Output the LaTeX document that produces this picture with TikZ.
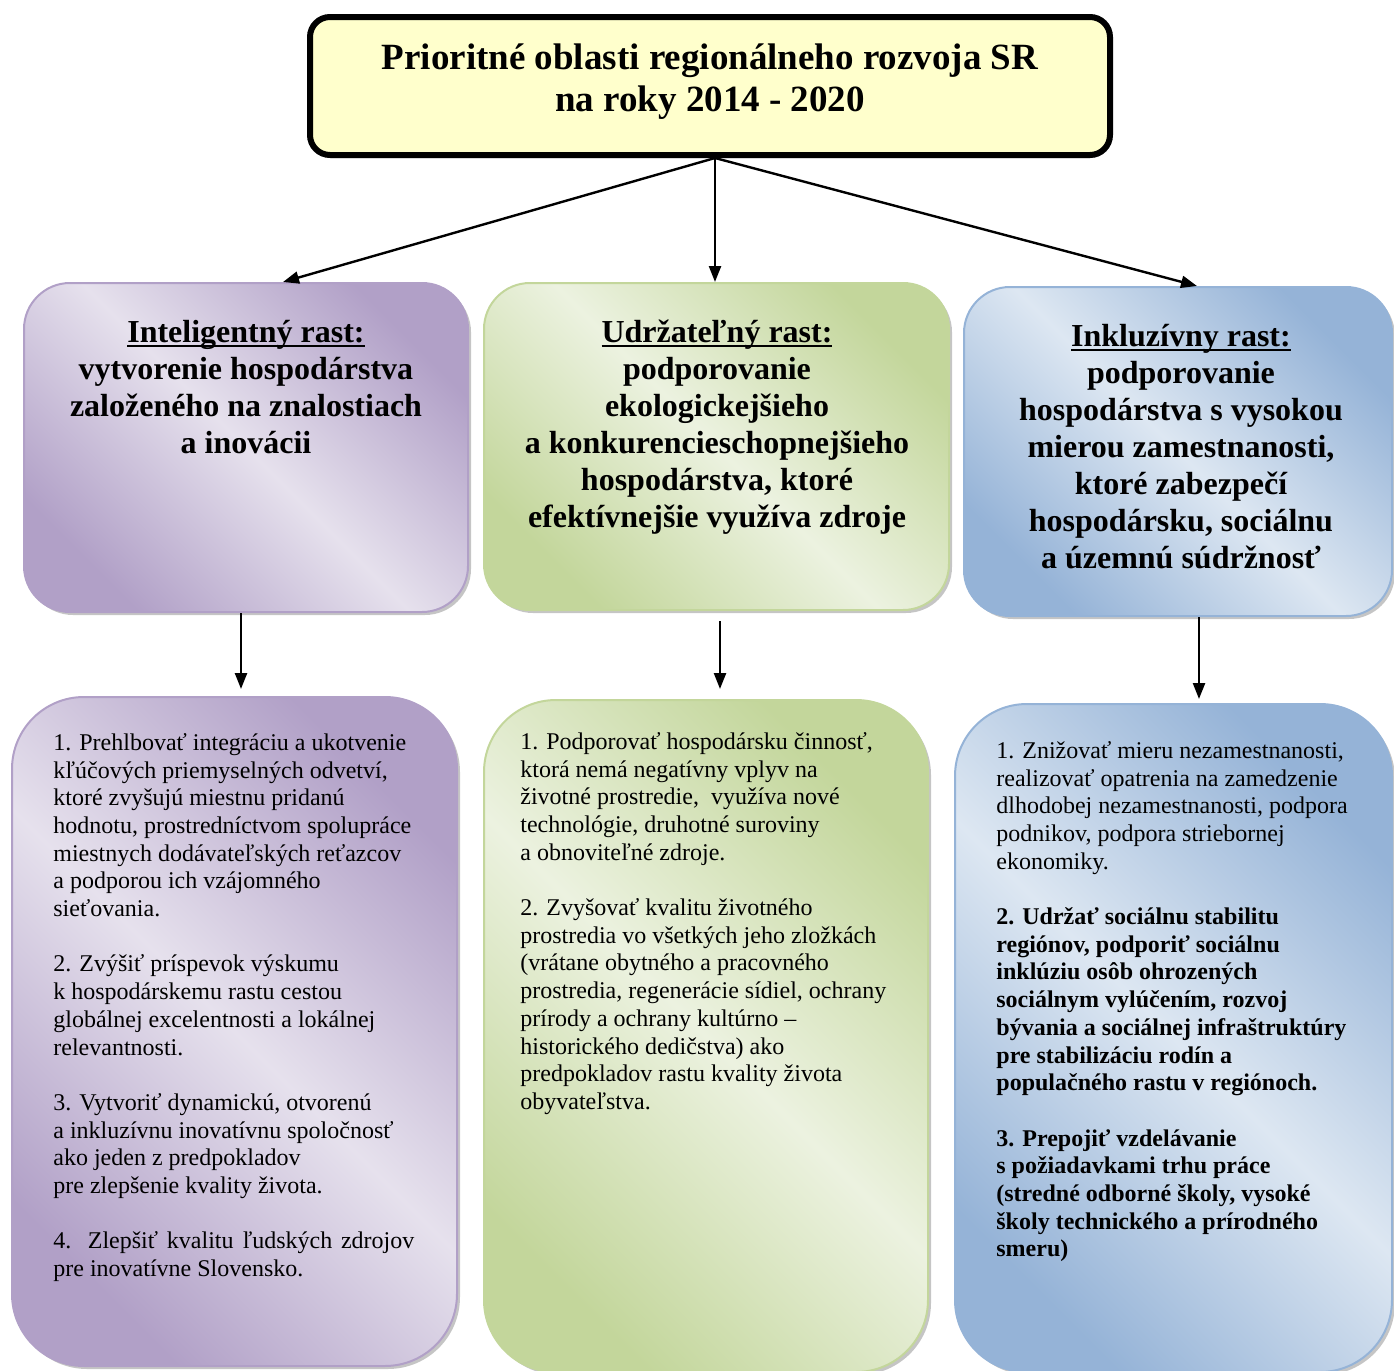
\documentclass[tikz,border=0pt]{standalone}
\usepackage{fontspec}
\setmainfont{Liberation Serif}
\usetikzlibrary{arrows.meta,shadows}

\newcommand{\undl}[1]{\setbox0=\hbox{#1}\rlap{\rule[-2pt]{\wd0}{1pt}}\box0}

\definecolor{titleyellow}{HTML}{FFFFCC}
\definecolor{purpdark}{HTML}{B1A0C7}
\definecolor{purplight}{HTML}{E6E1ED}
\definecolor{greendark}{HTML}{C3D69B}
\definecolor{greenlight}{HTML}{ECF2E0}
\definecolor{bluedark}{HTML}{95B3D7}
\definecolor{bluelight}{HTML}{DDE7F2}

\tikzset{
  shadowed/.style={drop shadow={shadow xshift=1.5pt, shadow yshift=-1.5pt, fill=black!45, opacity=0.5}},
  aimbox/.style={shadowed, rounded corners=23pt, line width=1pt, inner sep=0pt},
  goalbox/.style={shadowed, rounded corners=36pt, line width=1pt, inner sep=0pt},
  purplefill/.style={draw=purpdark, top color=purpdark, bottom color=purpdark, middle color=purplight, shading angle=-45},
  greenfill/.style={draw=greendark, top color=greendark, bottom color=greendark, middle color=greenlight, shading angle=-45},
  bluefill/.style={draw=bluedark, top color=bluedark, bottom color=bluedark, middle color=bluelight, shading angle=-45},
  aimtxt/.style={anchor=north, align=center, inner sep=0pt, font=\fontsize{16}{18.5}\selectfont\bfseries},
  goaltxt/.style={anchor=north west, align=left, inner sep=0pt, font=\fontsize{12}{13.85}\selectfont},
  arr/.style={-{Triangle[length=8pt,width=6pt]}, line width=1.2pt},
}

\begin{document}
\begin{tikzpicture}[x=0.5pt, y=-0.5pt]
  \useasboundingbox (0,0) rectangle (1394,1371);

  % header
  \node[draw, line width=3pt, rounded corners=10pt, fill=titleyellow, minimum width=400pt, minimum height=69pt,
        drop shadow={shadow xshift=0.5pt, shadow yshift=-1.5pt, fill=black!50, opacity=0.5},
        align=center, text depth=8pt, font=\fontsize{18.5}{21}\selectfont\bfseries]
        (title) at (710,86) {Prioritné oblasti regionálneho rozvoja SR\\na roky 2014 - 2020};

  % three kinds of growth
  \node[aimbox, purplefill, minimum width=222pt, minimum height=164.5pt] (smart) at (246,447.5) {};
  \node[aimbox, greenfill, minimum width=232.5pt, minimum height=163.5pt] (sustain) at (716.5,446.5) {};
  \node[aimbox, bluefill, minimum width=214pt, minimum height=164.5pt] (incl) at (1178,451.5) {};

  \node[aimtxt] (smarttxt) at (246,320) {\undl{Inteligentný rast:}\\vytvorenie hospodárstva\\založeného na znalostiach\\a inovácii};
  \node[aimtxt] (sustaintxt) at (717,320) {\undl{Udržateľný rast:}\\podporovanie\\ekologickejšieho\\a konkurencieschopnejšieho\\hospodárstva, ktoré\\efektívnejšie využíva zdroje};
  \node[aimtxt] (incltxt) at (1181,324) {\undl{Inkluzívny rast:}\\podporovanie\\hospodárstva s vysokou\\mierou zamestnanosti,\\ktoré zabezpečí\\hospodársku, sociálnu\\a územnú súdržnosť};

  % priorities
  \node[goalbox, purplefill, minimum width=222.5pt, minimum height=334.5pt] (smartgoals) at (234.5,1031.5) {};
  \node[goalbox, greenfill, minimum width=222pt, minimum height=336pt] (sustaingoals) at (706,1036) {};
  \node[goalbox, bluefill, minimum width=218.5pt, minimum height=334pt] (inclgoals) at (1173.5,1038) {};

  \node[goaltxt] (smartlist) at (53,733) {1. Prehlbovať integráciu a ukotvenie\\kľúčových priemyselných odvetví,\\ktoré zvyšujú miestnu pridanú\\hodnotu, prostredníctvom spolupráce\\miestnych dodávateľských reťazcov\\a podporou ich vzájomného\\sieťovania.\\[13.85pt]
    2. Zvýšiť príspevok výskumu\\k hospodárskemu rastu cestou\\globálnej excelentnosti a lokálnej\\relevantnosti.\\[13.85pt]
    3. Vytvoriť dynamickú, otvorenú\\a inkluzívnu inovatívnu spoločnosť\\ako jeden z predpokladov\\pre zlepšenie kvality života.\\[13.85pt]
    \makebox[180.5pt][s]{4. Zlepšiť kvalitu ľudských zdrojov}\\pre inovatívne Slovensko.};
  \node[goaltxt] (sustainlist) at (520,732) {1. Podporovať hospodársku činnosť,\\ktorá nemá negatívny vplyv na\\životné prostredie,\ \ využíva nové\\technológie, druhotné suroviny\\a obnoviteľné zdroje.\\[13.85pt]
    2. Zvyšovať kvalitu životného\\prostredia vo všetkých jeho zložkách\\(vrátane obytného a pracovného\\prostredia, regenerácie sídiel, ochrany\\prírody a ochrany kultúrno –\\historického dedičstva) ako\\predpokladov rastu kvality života\\obyvateľstva.};
  \node[goaltxt] (incllist) at (996,741) {1. Znižovať mieru nezamestnanosti,\\realizovať opatrenia na zamedzenie\\dlhodobej nezamestnanosti, podpora\\podnikov, podpora striebornej\\ekonomiky.\\[13.85pt]
    \textbf{2. Udržať sociálnu stabilitu}\\\textbf{regiónov, podporiť sociálnu}\\\textbf{inklúziu osôb ohrozených}\\\textbf{sociálnym vylúčením, rozvoj}\\\textbf{bývania a sociálnej infraštruktúry}\\\textbf{pre stabilizáciu rodín a}\\\textbf{populačného rastu v regiónoch.}\\[13.85pt]
    \textbf{3. Prepojiť vzdelávanie}\\\textbf{s požiadavkami trhu práce}\\\textbf{(stredné odborné školy, vysoké}\\\textbf{školy technického a prírodného}\\\textbf{smeru)}};

  % arrows
  \draw[arr] ([xshift=2.5pt]title.south) -- ([xshift=18.5pt]smart.north);
  \draw[arr] ([xshift=2.5pt]title.south) -- ([xshift=-0.75pt]sustain.north);
  \draw[arr] ([xshift=2.5pt]title.south) -- ([xshift=9.5pt]incl.north);

  \draw[arr, shorten >=3.5pt] ([xshift=-2.5pt]smart.south) -- ([xshift=-2.5pt]smart.south |- smartgoals.north);
  \draw[arr, shorten <=5pt, shorten >=5pt] ([xshift=1.75pt]sustain.south) -- ([xshift=1.75pt]sustain.south |- sustaingoals.north);
  \draw[arr, shorten >=2pt] ([xshift=10.5pt]incl.south) -- ([xshift=10.5pt]incl.south |- inclgoals.north);
\end{tikzpicture}
\end{document}
